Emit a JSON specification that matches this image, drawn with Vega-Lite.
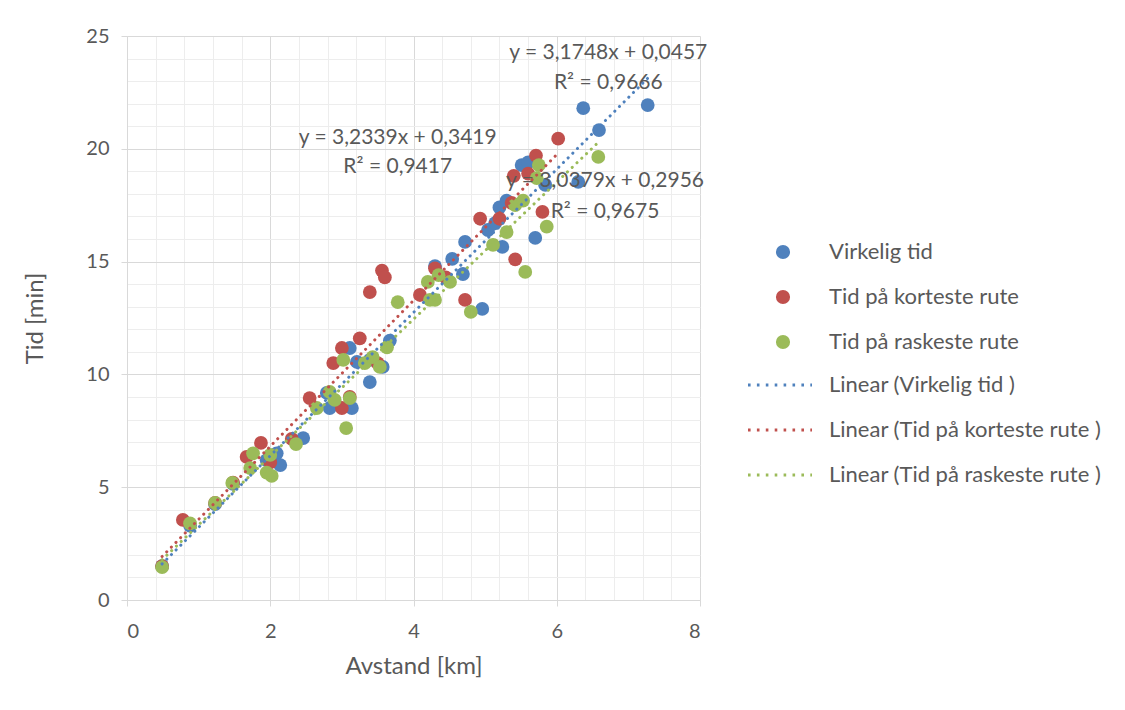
{
  "$schema": "https://vega.github.io/schema/vega-lite/v6.json",
  "width": 573,
  "height": 564,
  "autosize": {"type": "none"},
  "padding": {"left": 127, "top": 36, "right": 425, "bottom": 110},
  "background": "white",
  "config": {
    "font": "Lato",
    "view": {"stroke": null},
    "axis": {"labelColor": "#595959", "titleColor": "#595959", "labelFont": "Lato", "titleFont": "Lato", "titleFontWeight": "normal", "labelFontSize": 20, "titleFontSize": 24},
    "legend": {"labelColor": "#595959", "labelFont": "Lato", "labelFontSize": 22, "padding": 0, "labelLimit": 500}
  },
  "datasets": {
    "punkter": [
      {"avstand": 0.49, "tid": 1.5, "serie": "Virkelig tid"},
      {"avstand": 0.88, "tid": 3.3, "serie": "Virkelig tid"},
      {"avstand": 1.23, "tid": 4.25, "serie": "Virkelig tid"},
      {"avstand": 1.48, "tid": 5.15, "serie": "Virkelig tid"},
      {"avstand": 1.95, "tid": 6.2, "serie": "Virkelig tid"},
      {"avstand": 2.09, "tid": 6.5, "serie": "Virkelig tid"},
      {"avstand": 2.14, "tid": 5.98, "serie": "Virkelig tid"},
      {"avstand": 2.46, "tid": 7.18, "serie": "Virkelig tid"},
      {"avstand": 2.79, "tid": 9.18, "serie": "Virkelig tid"},
      {"avstand": 2.83, "tid": 8.51, "serie": "Virkelig tid"},
      {"avstand": 3.11, "tid": 11.17, "serie": "Virkelig tid"},
      {"avstand": 3.14, "tid": 8.51, "serie": "Virkelig tid"},
      {"avstand": 3.21, "tid": 10.55, "serie": "Virkelig tid"},
      {"avstand": 3.39, "tid": 10.64, "serie": "Virkelig tid"},
      {"avstand": 3.39, "tid": 9.66, "serie": "Virkelig tid"},
      {"avstand": 3.57, "tid": 10.33, "serie": "Virkelig tid"},
      {"avstand": 3.67, "tid": 11.5, "serie": "Virkelig tid"},
      {"avstand": 4.3, "tid": 14.8, "serie": "Virkelig tid"},
      {"avstand": 4.54, "tid": 15.12, "serie": "Virkelig tid"},
      {"avstand": 4.69, "tid": 14.45, "serie": "Virkelig tid"},
      {"avstand": 4.72, "tid": 15.87, "serie": "Virkelig tid"},
      {"avstand": 4.96, "tid": 12.9, "serie": "Virkelig tid"},
      {"avstand": 5.04, "tid": 16.4, "serie": "Virkelig tid"},
      {"avstand": 5.14, "tid": 16.7, "serie": "Virkelig tid"},
      {"avstand": 5.24, "tid": 15.65, "serie": "Virkelig tid"},
      {"avstand": 5.2, "tid": 17.4, "serie": "Virkelig tid"},
      {"avstand": 5.3, "tid": 17.7, "serie": "Virkelig tid"},
      {"avstand": 5.51, "tid": 19.28, "serie": "Virkelig tid"},
      {"avstand": 5.6, "tid": 19.4, "serie": "Virkelig tid"},
      {"avstand": 5.7, "tid": 16.05, "serie": "Virkelig tid"},
      {"avstand": 5.84, "tid": 18.4, "serie": "Virkelig tid"},
      {"avstand": 6.3, "tid": 18.53, "serie": "Virkelig tid"},
      {"avstand": 6.59, "tid": 20.83, "serie": "Virkelig tid"},
      {"avstand": 6.37, "tid": 21.8, "serie": "Virkelig tid"},
      {"avstand": 7.27, "tid": 21.94, "serie": "Virkelig tid"},
      {"avstand": 0.49, "tid": 1.5, "serie": "Tid på korteste rute"},
      {"avstand": 0.78, "tid": 3.55, "serie": "Tid på korteste rute"},
      {"avstand": 1.23, "tid": 4.3, "serie": "Tid på korteste rute"},
      {"avstand": 1.48, "tid": 5.2, "serie": "Tid på korteste rute"},
      {"avstand": 1.67, "tid": 6.34, "serie": "Tid på korteste rute"},
      {"avstand": 1.87, "tid": 6.96, "serie": "Tid på korteste rute"},
      {"avstand": 2.0, "tid": 6.1, "serie": "Tid på korteste rute"},
      {"avstand": 2.3, "tid": 7.14, "serie": "Tid på korteste rute"},
      {"avstand": 2.55, "tid": 8.95, "serie": "Tid på korteste rute"},
      {"avstand": 2.88, "tid": 10.5, "serie": "Tid på korteste rute"},
      {"avstand": 3.0, "tid": 11.17, "serie": "Tid på korteste rute"},
      {"avstand": 3.0, "tid": 8.51, "serie": "Tid på korteste rute"},
      {"avstand": 3.11, "tid": 9.0, "serie": "Tid på korteste rute"},
      {"avstand": 3.25, "tid": 11.6, "serie": "Tid på korteste rute"},
      {"avstand": 3.39, "tid": 13.65, "serie": "Tid på korteste rute"},
      {"avstand": 3.56, "tid": 14.6, "serie": "Tid på korteste rute"},
      {"avstand": 3.6, "tid": 14.3, "serie": "Tid på korteste rute"},
      {"avstand": 3.5, "tid": 10.5, "serie": "Tid på korteste rute"},
      {"avstand": 4.09, "tid": 13.52, "serie": "Tid på korteste rute"},
      {"avstand": 4.3, "tid": 14.7, "serie": "Tid på korteste rute"},
      {"avstand": 4.45, "tid": 14.3, "serie": "Tid på korteste rute"},
      {"avstand": 4.72, "tid": 13.3, "serie": "Tid på korteste rute"},
      {"avstand": 4.93, "tid": 16.9, "serie": "Tid på korteste rute"},
      {"avstand": 5.2, "tid": 16.9, "serie": "Tid på korteste rute"},
      {"avstand": 5.37, "tid": 17.6, "serie": "Tid på korteste rute"},
      {"avstand": 5.42, "tid": 15.1, "serie": "Tid på korteste rute"},
      {"avstand": 5.4, "tid": 18.8, "serie": "Tid på korteste rute"},
      {"avstand": 5.6, "tid": 18.9, "serie": "Tid på korteste rute"},
      {"avstand": 5.71, "tid": 19.7, "serie": "Tid på korteste rute"},
      {"avstand": 5.8, "tid": 17.2, "serie": "Tid på korteste rute"},
      {"avstand": 6.02, "tid": 20.45, "serie": "Tid på korteste rute"},
      {"avstand": 0.49, "tid": 1.46, "serie": "Tid på raskeste rute"},
      {"avstand": 0.88, "tid": 3.4, "serie": "Tid på raskeste rute"},
      {"avstand": 1.23, "tid": 4.3, "serie": "Tid på raskeste rute"},
      {"avstand": 1.47, "tid": 5.19, "serie": "Tid på raskeste rute"},
      {"avstand": 1.72, "tid": 5.85, "serie": "Tid på raskeste rute"},
      {"avstand": 1.76, "tid": 6.5, "serie": "Tid på raskeste rute"},
      {"avstand": 1.95, "tid": 5.65, "serie": "Tid på raskeste rute"},
      {"avstand": 2.0, "tid": 6.43, "serie": "Tid på raskeste rute"},
      {"avstand": 2.02, "tid": 5.5, "serie": "Tid på raskeste rute"},
      {"avstand": 2.36, "tid": 6.91, "serie": "Tid på raskeste rute"},
      {"avstand": 2.65, "tid": 8.51, "serie": "Tid på raskeste rute"},
      {"avstand": 2.83, "tid": 9.22, "serie": "Tid på raskeste rute"},
      {"avstand": 2.9, "tid": 8.87, "serie": "Tid på raskeste rute"},
      {"avstand": 3.02, "tid": 10.64, "serie": "Tid på raskeste rute"},
      {"avstand": 3.06, "tid": 7.62, "serie": "Tid på raskeste rute"},
      {"avstand": 3.11, "tid": 8.95, "serie": "Tid på raskeste rute"},
      {"avstand": 3.32, "tid": 10.5, "serie": "Tid på raskeste rute"},
      {"avstand": 3.43, "tid": 10.77, "serie": "Tid på raskeste rute"},
      {"avstand": 3.53, "tid": 10.33, "serie": "Tid på raskeste rute"},
      {"avstand": 3.63, "tid": 11.2, "serie": "Tid på raskeste rute"},
      {"avstand": 3.78, "tid": 13.2, "serie": "Tid på raskeste rute"},
      {"avstand": 4.2, "tid": 14.1, "serie": "Tid på raskeste rute"},
      {"avstand": 4.23, "tid": 13.3, "serie": "Tid på raskeste rute"},
      {"avstand": 4.3, "tid": 13.3, "serie": "Tid på raskeste rute"},
      {"avstand": 4.35, "tid": 14.4, "serie": "Tid på raskeste rute"},
      {"avstand": 4.51, "tid": 14.1, "serie": "Tid på raskeste rute"},
      {"avstand": 4.8, "tid": 12.77, "serie": "Tid på raskeste rute"},
      {"avstand": 5.11, "tid": 15.74, "serie": "Tid på raskeste rute"},
      {"avstand": 5.3, "tid": 16.31, "serie": "Tid på raskeste rute"},
      {"avstand": 5.42, "tid": 17.5, "serie": "Tid på raskeste rute"},
      {"avstand": 5.53, "tid": 17.7, "serie": "Tid på raskeste rute"},
      {"avstand": 5.56, "tid": 14.54, "serie": "Tid på raskeste rute"},
      {"avstand": 5.72, "tid": 18.7, "serie": "Tid på raskeste rute"},
      {"avstand": 5.75, "tid": 19.28, "serie": "Tid på raskeste rute"},
      {"avstand": 5.86, "tid": 16.55, "serie": "Tid på raskeste rute"},
      {"avstand": 6.58, "tid": 19.64, "serie": "Tid på raskeste rute"}
    ],
    "trend": [
      {"avstand": 0.49, "tid": 1.601, "trend": "Linear (Virkelig tid )"},
      {"avstand": 7.27, "tid": 23.127, "trend": "Linear (Virkelig tid )"},
      {"avstand": 0.49, "tid": 1.927, "trend": "Linear (Tid på korteste rute )"},
      {"avstand": 6.02, "tid": 19.81, "trend": "Linear (Tid på korteste rute )"},
      {"avstand": 0.49, "tid": 1.784, "trend": "Linear (Tid på raskeste rute )"},
      {"avstand": 6.58, "tid": 20.285, "trend": "Linear (Tid på raskeste rute )"}
    ],
    "etiketter": [
      {"avstand": 6.72, "tid": 24.25, "tekst": "y = 3,1748x + 0,0457"},
      {"avstand": 6.72, "tid": 22.92, "tekst": "R² = 0,9666"},
      {"avstand": 3.78, "tid": 20.48, "tekst": "y = 3,2339x + 0,3419"},
      {"avstand": 3.78, "tid": 19.19, "tekst": "R² = 0,9417"},
      {"avstand": 6.674, "tid": 18.57, "tekst": "y = 3,0379x + 0,2956"},
      {"avstand": 6.674, "tid": 17.2, "tekst": "R² = 0,9675"}
    ]
  },
  "layer": [
    {
      "data": {"name": "punkter"},
      "mark": {"type": "point", "opacity": 0},
      "encoding": {
        "x": {"field": "avstand", "type": "quantitative", "scale": {"domain": [0, 8], "nice": false, "zero": false},
          "axis": {"orient": "top", "values": [0.4, 0.8, 1.2, 1.6, 2.4, 2.8, 3.2, 3.6, 4.4, 4.8, 5.2, 5.6, 6.4, 6.8, 7.2, 7.6], "labels": false, "ticks": false, "domain": false, "title": null, "grid": true, "gridColor": "#EDEDED", "gridWidth": 1}},
        "y": {"field": "tid", "type": "quantitative", "scale": {"domain": [0, 25], "nice": false, "zero": false},
          "axis": {"orient": "right", "values": [1, 2, 3, 4, 6, 7, 8, 9, 11, 12, 13, 14, 16, 17, 18, 19, 21, 22, 23, 24], "labels": false, "ticks": false, "domain": false, "title": null, "grid": true, "gridColor": "#EDEDED", "gridWidth": 1}}
      }
    },
    {
      "data": {"name": "punkter"},
      "mark": {"type": "point", "filled": true, "opacity": 1, "size": 190},
      "encoding": {
        "x": {"field": "avstand", "type": "quantitative",
          "axis": {"orient": "bottom", "values": [0, 2, 4, 6, 8], "title": "Avstand [km]", "grid": true, "gridColor": "#D9D9D9", "domainColor": "#D9D9D9", "tickColor": "#D9D9D9", "tickSize": 6, "labelPadding": 15, "titlePadding": 13}},
        "y": {"field": "tid", "type": "quantitative",
          "axis": {"orient": "left", "values": [0, 5, 10, 15, 20, 25], "title": "Tid [min]", "grid": true, "gridColor": "#D9D9D9", "domainColor": "#D9D9D9", "tickColor": "#D9D9D9", "tickSize": 6, "labelPadding": 12, "titlePadding": 38}},
        "color": {"field": "serie", "type": "nominal",
          "scale": {"domain": ["Virkelig tid", "Tid på korteste rute", "Tid på raskeste rute"], "range": ["#4F81BD", "#C0504D", "#9BBB59"]},
          "legend": {"title": null, "orient": "none", "legendX": 645, "legendY": 205, "symbolType": "circle", "symbolSize": 200, "symbolOpacity": 1, "labelOffset": 35, "rowPadding": 23}}
      }
    },
    {
      "data": {"name": "trend"},
      "mark": {"type": "line", "strokeWidth": 3, "strokeDash": [0.1, 6.5], "strokeCap": "round"},
      "encoding": {
        "x": {"field": "avstand", "type": "quantitative", "axis": null},
        "y": {"field": "tid", "type": "quantitative", "axis": null},
        "stroke": {"field": "trend", "type": "nominal",
          "scale": {"domain": ["Linear (Virkelig tid )", "Linear (Tid på korteste rute )", "Linear (Tid på raskeste rute )"], "range": ["#4F81BD", "#C0504D", "#9BBB59"]},
          "legend": {"title": null, "orient": "none", "legendX": 642, "legendY": 338, "symbolType": "M-4,0H4", "symbolSize": 256, "symbolStrokeWidth": 3, "symbolDash": [2.6, 6.3], "symbolFillColor": "transparent", "labelOffset": 38, "rowPadding": 23}}
      }
    },
    {
      "data": {"name": "etiketter"},
      "mark": {"type": "text", "font": "Lato", "fontSize": 21, "color": "#595959", "align": "center", "baseline": "middle"},
      "encoding": {
        "x": {"field": "avstand", "type": "quantitative", "axis": null},
        "y": {"field": "tid", "type": "quantitative", "axis": null},
        "text": {"field": "tekst", "type": "nominal"}
      }
    }
  ],
  "resolve": {"axis": {"x": "independent", "y": "independent"}}
}
